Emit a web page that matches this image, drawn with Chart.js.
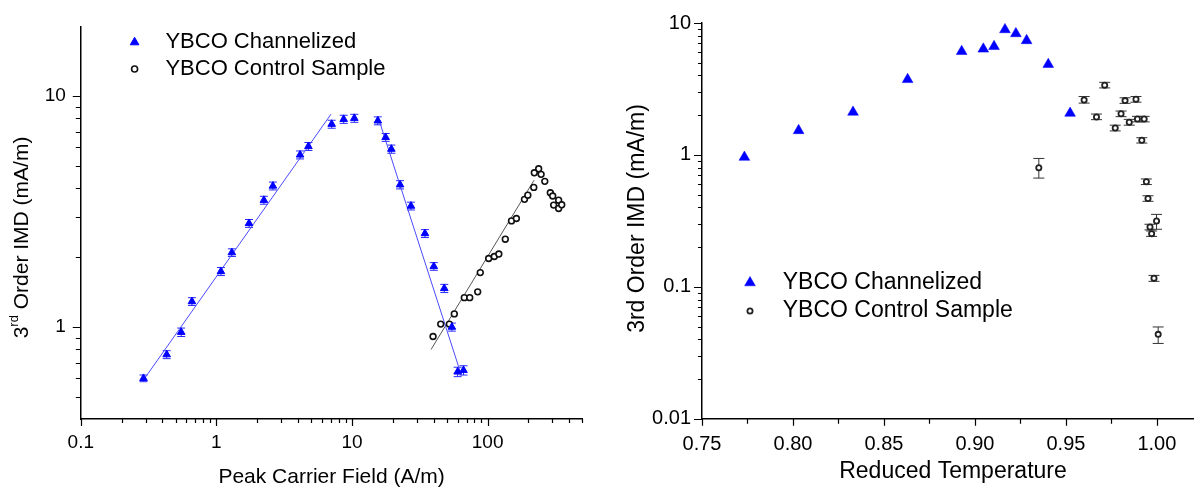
<!DOCTYPE html>
<html>
<head>
<meta charset="utf-8">
<script src="https://cdn.jsdelivr.net/npm/chart.js@4.4.0/dist/chart.umd.min.js"></script>
<style>
  html, body { margin: 0; padding: 0; background: #fff; overflow: hidden; }
  #wrap { position: relative; width: 1199px; height: 489px; overflow: hidden; }
  .panel { position: absolute; top: 0; }
  #left { left: 0; }
  #right { left: 600px; }
</style>
</head>
<body>
<div id="wrap">
  <div class="panel" id="left"><canvas id="fieldChart" width="600" height="489"></canvas></div>
  <div class="panel" id="right"><canvas id="tempChart" width="600" height="489"></canvas></div>
</div>
<script>
// ---------- Left panel: 3rd order IMD vs peak carrier field ----------
const fieldChannelized = [0.29, 0.43, 0.55, 0.66, 1.08, 1.30, 1.74, 2.24, 2.61, 4.14, 4.77, 7.08, 8.68, 10.4, 15.5,
                          17.7, 19.5, 22.6, 27.2, 34.5, 40.1, 47.9, 54.5, 60.1, 66.4];
const imdChannelized   = [0.60, 0.76, 0.95, 1.29, 1.74, 2.10, 2.81, 3.54, 4.08, 5.56, 6.05, 7.55, 7.93, 8.01, 7.81,
                          6.62, 5.89, 4.13, 3.34, 2.54, 1.83, 1.47, 1.00, 0.64, 0.65];
const imdChannelizedLow  = [0.58, 0.73, 0.91, 1.24, 1.67, 2.02, 2.70, 3.40, 3.92, 5.34, 5.81, 7.25, 7.61, 7.69, 7.50,
                            6.36, 5.65, 3.96, 3.21, 2.44, 1.76, 1.41, 0.96, 0.61, 0.62];
const imdChannelizedHigh = [0.62, 0.79, 0.99, 1.34, 1.81, 2.18, 2.92, 3.68, 4.24, 5.78, 6.29, 7.85, 8.25, 8.33, 8.12,
                            6.88, 6.13, 4.30, 3.47, 2.64, 1.90, 1.53, 1.04, 0.67, 0.68];
const fieldControl = [39.6, 45.1, 52.2, 56.8, 67.3, 73.8, 84.5, 88.3, 101.8, 112, 121, 135, 150, 163, 187, 198,
                      219, 221, 238, 248, 264, 290, 302, 307, 334, 334, 352];
const imdControl   = [0.91, 1.03, 1.03, 1.14, 1.34, 1.34, 1.42, 1.72, 1.98, 2.02, 2.07, 2.40, 2.88, 2.95, 3.57, 3.72,
                      4.02, 4.65, 4.84, 4.58, 4.27, 3.81, 3.69, 3.37, 3.54, 3.26, 3.38];
// power-law fits (end points of each fitted segment)
const fitRiseField = [0.29, 7.0];   const fitRiseImd = [0.59, 8.34];
const fitFallField = [15.6, 64.2];  const fitFallImd = [8.07, 0.616];
const fitCtrlField = [38.3, 220];   const fitCtrlImd = [0.80, 4.32];

const fieldMajorTicks = [0.1, 1, 10, 100];
const fieldMinorTicks = [0.2, 0.3, 0.4, 0.5, 0.6, 0.7, 0.8, 0.9, 2, 3, 4, 5, 6, 7, 8, 9,
                         20, 30, 40, 50, 60, 70, 80, 90, 200, 300, 400, 500];
const imdLeftMajorTicks = [1, 10];
const imdLeftMinorTicks = [0.5, 0.6, 0.7, 0.8, 0.9, 2, 3, 4, 5, 6, 7, 8, 9];

// ---------- Right panel: 3rd order IMD vs reduced temperature ----------
const tempChannelized = [0.7733, 0.8031, 0.8330, 0.8630, 0.8927, 0.9046, 0.9105, 0.9165, 0.9225, 0.9284, 0.9403, 0.9523];
const imdTChannelized = [0.96, 1.53, 2.11, 3.73, 6.09, 6.35, 6.64, 8.91, 8.31, 7.36, 4.86, 2.07];
const tempControl = [0.9351, 0.9600, 0.9713, 0.9668, 0.9771, 0.9803, 0.9825, 0.9848, 0.9885, 0.9893,
                     0.9930, 0.9917, 0.9942, 0.9951, 0.9998, 0.9962, 0.9971, 0.9984, 1.0007];
const imdTControl = [0.80, 2.61, 3.38, 1.94, 1.60, 2.05, 2.58, 1.77, 2.64, 1.87,
                     1.87, 1.29, 0.626, 0.467, 0.315, 0.284, 0.253, 0.116, 0.0436];
const imdTControlLow  = [0.667, 2.47, 3.22, 1.85, 1.52, 1.95, 2.46, 1.68, 2.51, 1.78,
                         1.78, 1.23, 0.596, 0.445, 0.273, 0.270, 0.241, 0.110, 0.0372];
const imdTControlHigh = [0.94, 2.77, 3.55, 2.04, 1.68, 2.15, 2.71, 1.86, 2.77, 1.96,
                         1.96, 1.35, 0.657, 0.490, 0.354, 0.298, 0.265, 0.122, 0.0496];

const tempMajorTicks = [0.75, 0.80, 0.85, 0.90, 0.95, 1.00];
const tempMinorTicks = [0.775, 0.825, 0.875, 0.925, 0.975];
const imdRightMajorTicks = [0.01, 0.1, 1, 10];
const imdRightMinorTicks = [0.02, 0.03, 0.04, 0.05, 0.06, 0.07, 0.08, 0.09,
                            0.2, 0.3, 0.4, 0.5, 0.6, 0.7, 0.8, 0.9, 2, 3, 4, 5, 6, 7, 8, 9];

const FONT = "'Liberation Sans', Arial, Helvetica, sans-serif";
Chart.defaults.font.family = FONT;
Chart.defaults.color = '#000';

const pts = (xs, ys) => xs.map((x, i) => ({ x, y: ys[i] }));

// Outward tick marks, major and minor, placed through the chart scales
const tickMarks = {
  id: 'tickMarks',
  afterDraw(chart, _args, o) {
    const { ctx, chartArea: ca } = chart;
    const sx = chart.scales.x, sy = chart.scales.y;
    ctx.save();
    ctx.strokeStyle = '#000';
    ctx.lineWidth = o.width;
    ctx.beginPath();
    const xs = (vals, len) => vals.forEach(v => {
      const p = Math.round(sx.getPixelForValue(v)) + 0.5;
      ctx.moveTo(p, ca.bottom); ctx.lineTo(p, ca.bottom + len);
    });
    const ys = (vals, len) => vals.forEach(v => {
      const p = Math.round(sy.getPixelForValue(v)) + 0.5;
      ctx.moveTo(ca.left, p); ctx.lineTo(ca.left - len, p);
    });
    xs(o.xMajor, o.xMajorLen); xs(o.xMinor, o.xMinorLen);
    ys(o.yMajor, o.yMajorLen); ys(o.yMinor, o.yMinorLen);
    ctx.stroke();
    ctx.restore();
  }
};

// Vertical error bars with caps
const errorBars = {
  id: 'errorBars',
  beforeDatasetsDraw(chart, _args, o) {
    if (!o.sets) return;
    const { ctx } = chart;
    const sx = chart.scales.x, sy = chart.scales.y;
    ctx.save();
    o.sets.forEach(s => {
      ctx.strokeStyle = s.color;
      ctx.lineWidth = s.width;
      ctx.beginPath();
      s.x.forEach((xv, i) => {
        const px = sx.getPixelForValue(xv);
        const lo = sy.getPixelForValue(s.low[i]);
        const hi = sy.getPixelForValue(s.high[i]);
        ctx.moveTo(px, lo); ctx.lineTo(px, hi);
        ctx.moveTo(px - s.cap, lo); ctx.lineTo(px + s.cap, lo);
        ctx.moveTo(px - s.cap, hi); ctx.lineTo(px + s.cap, hi);
      });
      ctx.stroke();
    });
    ctx.restore();
  }
};

// Axis titles (supports a raised ordinal suffix)
const axisTitles = {
  id: 'axisTitles',
  afterDraw(chart, _args, o) {
    const { ctx } = chart;
    o.items.forEach(t => {
      ctx.save();
      ctx.fillStyle = '#000';
      ctx.textBaseline = 'middle';
      ctx.translate(t.x, t.y);
      if (t.rotate) ctx.rotate(-Math.PI / 2);
      const parts = t.parts.map(p => {
        const size = p.sup ? t.size * 0.62 : t.size;
        ctx.font = `${size}px ${FONT}`;
        return { text: p.text, size, sup: p.sup, w: ctx.measureText(p.text).width };
      });
      const total = parts.reduce((a, p) => a + p.w, 0);
      let cx = -total / 2;
      parts.forEach(p => {
        ctx.font = `${p.size}px ${FONT}`;
        ctx.fillText(p.text, cx, p.sup ? -t.size * 0.38 : 0);
        cx += p.w;
      });
      ctx.restore();
    });
  }
};

// Legend drawn inside the plot with the dataset markers
const markerLegend = {
  id: 'markerLegend',
  afterDraw(chart, _args, o) {
    const { ctx } = chart;
    ctx.save();
    o.entries.forEach((e, i) => {
      const ds = chart.data.datasets[e.dataset];
      const yy = o.y + i * o.rowGap;
      ctx.fillStyle = ds.backgroundColor;
      ctx.strokeStyle = ds.borderColor;
      ctx.lineWidth = ds.borderWidth;
      Chart.helpers.drawPoint(ctx, { pointStyle: ds.pointStyle, radius: e.radius, rotation: 0, borderWidth: ds.borderWidth }, o.markerX, yy);
      ctx.fillStyle = '#000';
      ctx.font = `${o.size}px ${FONT}`;
      ctx.textBaseline = 'middle';
      ctx.textAlign = 'left';
      ctx.fillText(ds.label, o.textX, yy);
    });
    ctx.restore();
  }
};

const fixedTicks = vals => scale => { scale.ticks = vals.map(v => ({ value: v })); };

// ---------- Left chart ----------
new Chart(document.getElementById('fieldChart'), {
  type: 'scatter',
  data: {
    datasets: [
      { label: 'YBCO Channelized', data: pts(fieldChannelized, imdChannelized), pointStyle: 'triangle',
        pointRadius: 4.4, backgroundColor: '#0000ff', borderColor: '#0000ff', borderWidth: 1 },
      { label: 'YBCO Control Sample', data: pts(fieldControl, imdControl), pointStyle: 'circle',
        pointRadius: 2.9, backgroundColor: '#ffffff', borderColor: '#111111', borderWidth: 1.6 },
      { label: 'fit rise', data: pts(fitRiseField, fitRiseImd), showLine: true, pointRadius: 0,
        borderColor: '#4a4aff', borderWidth: 1 },
      { label: 'fit fall', data: pts(fitFallField, fitFallImd), showLine: true, pointRadius: 0,
        borderColor: '#4a4aff', borderWidth: 1 },
      { label: 'fit control', data: pts(fitCtrlField, fitCtrlImd), showLine: true, pointRadius: 0,
        borderColor: '#555555', borderWidth: 1 }
    ]
  },
  options: {
    responsive: false, animation: false, devicePixelRatio: 1,
    layout: { padding: { left: 0, right: 17.6, top: 23.3, bottom: 0 } },
    scales: {
      x: {
        type: 'logarithmic', min: 0.1, max: 500,
        afterBuildTicks: fixedTicks(fieldMajorTicks),
        afterFit: s => { s.height = 70; },
        grid: { display: false, drawTicks: false },
        border: { display: true, color: '#000', width: 1.5 },
        ticks: { autoSkip: false, maxRotation: 0, padding: 12.5, font: { size: 19 },
                 callback: v => String(v) }
      },
      y: {
        type: 'logarithmic', min: 0.4, max: 20,
        afterBuildTicks: fixedTicks(imdLeftMajorTicks),
        afterFit: s => { s.width = 80.8; },
        grid: { display: false, drawTicks: false },
        border: { display: true, color: '#000', width: 1.5 },
        ticks: { autoSkip: false, padding: 15, font: { size: 19 }, callback: v => String(v) }
      }
    },
    plugins: {
      legend: { display: false }, tooltip: { enabled: false },
      tickMarks: { width: 1.2, xMajor: fieldMajorTicks, xMinor: fieldMinorTicks, xMajorLen: 7, xMinorLen: 4,
                   yMajor: imdLeftMajorTicks, yMinor: imdLeftMinorTicks, yMajorLen: 8, yMinorLen: 5 },
      errorBars: { sets: [{ x: fieldChannelized, low: imdChannelizedLow, high: imdChannelizedHigh,
                            color: '#2a2aff', width: 1, cap: 4 }] },
      axisTitles: { items: [
        { x: 331.6, y: 477, size: 21, parts: [{ text: 'Peak Carrier Field (A/m)' }] },
        { x: 22, y: 237.5, size: 21, rotate: true,
          parts: [{ text: '3' }, { text: 'rd', sup: true }, { text: ' Order IMD (mA/m)' }] }
      ] },
      markerLegend: { markerX: 134.6, textX: 165.4, y: 42.3, rowGap: 26.7, size: 22,
                      entries: [{ dataset: 0, radius: 5 }, { dataset: 1, radius: 3 }] }
    }
  },
  plugins: [tickMarks, errorBars, axisTitles, markerLegend]
});

// ---------- Right chart ----------
new Chart(document.getElementById('tempChart'), {
  type: 'scatter',
  data: {
    datasets: [
      { label: 'YBCO Channelized', data: pts(tempChannelized, imdTChannelized), pointStyle: 'triangle',
        pointRadius: 6.2, backgroundColor: '#0000ff', borderColor: '#0000ff', borderWidth: 0.5 },
      { label: 'YBCO Control Sample', data: pts(tempControl, imdTControl), pointStyle: 'circle',
        pointRadius: 2.6, backgroundColor: '#ffffff', borderColor: '#222222', borderWidth: 1.8 }
    ]
  },
  options: {
    responsive: false, animation: false, devicePixelRatio: 1,
    layout: { padding: { left: 0, right: 0, top: 19, bottom: 0 } },
    scales: {
      x: {
        type: 'linear', min: 0.75, max: 1.02,
        afterBuildTicks: fixedTicks(tempMajorTicks),
        afterFit: s => { s.height = 70.3; },
        grid: { display: false, drawTicks: false },
        border: { display: true, color: '#000', width: 1.5 },
        ticks: { autoSkip: false, maxRotation: 0, padding: 13.5, font: { size: 20 },
                 callback: v => Number(v).toFixed(2) }
      },
      y: {
        type: 'logarithmic', min: 0.01, max: 10,
        afterBuildTicks: fixedTicks(imdRightMajorTicks),
        afterFit: s => { s.width = 102; },
        grid: { display: false, drawTicks: false },
        border: { display: true, color: '#000', width: 1.5 },
        ticks: { autoSkip: false, padding: 11, font: { size: 20 }, callback: v => String(v) }
      }
    },
    plugins: {
      legend: { display: false }, tooltip: { enabled: false },
      tickMarks: { width: 1.2, xMajor: tempMajorTicks, xMinor: tempMinorTicks, xMajorLen: 7, xMinorLen: 5,
                   yMajor: imdRightMajorTicks, yMinor: imdRightMinorTicks, yMajorLen: 8, yMinorLen: 4 },
      errorBars: { sets: [{ x: tempControl, low: imdTControlLow, high: imdTControlHigh,
                            color: '#333333', width: 1, cap: 5.5 }] },
      axisTitles: { items: [
        { x: 353, y: 472, size: 23, parts: [{ text: 'Reduced Temperature' }] },
        { x: 37.5, y: 218.5, size: 23, rotate: true, parts: [{ text: '3rd Order IMD (mA/m)' }] }
      ] },
      markerLegend: { markerX: 150, textX: 182.7, y: 282.7, rowGap: 28.3, size: 23,
                      entries: [{ dataset: 0, radius: 6.2 }, { dataset: 1, radius: 2.6 }] }
    }
  },
  plugins: [tickMarks, errorBars, axisTitles, markerLegend]
});
</script>
</body>
</html>
